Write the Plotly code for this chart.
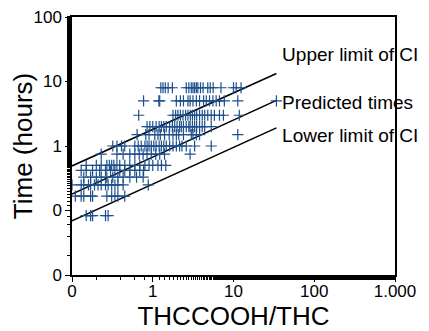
import plotly.graph_objects as go

# Observed times (hours) and THCCOOH/THC ratios per time row
times = [8, 5, 3, 2, 1.5, 1, 0.75, 0.5, 0.42, 0.33, 0.25, 0.167, 0.083]
ratios_8 = [1.26, 1.34, 1.43, 1.55, 1.75, 2.6, 2.8, 3.0, 3.15, 3.3, 3.47, 3.62, 3.9, 4.2, 4.8, 5.15, 5.6, 7.0, 10.0, 10.8, 12.4]
ratios_5 = [0.77, 1.19, 1.22, 1.96, 2.2, 2.4, 2.73, 2.9, 3.15, 3.47, 3.8, 4.26, 4.6, 5.05, 5.56, 6.1, 6.7, 7.7, 11.3, 34]
ratios_3 = [0.67, 1.78, 1.92, 2.05, 2.2, 2.37, 2.55, 2.73, 2.92, 3.1, 3.3, 3.5, 3.8, 4.1, 4.4, 4.8, 5.3, 5.8, 6.7, 7.5, 11.8]
ratios_2 = [0.85, 0.92, 1.0, 1.1, 1.2, 1.28, 1.37, 1.47, 1.62, 1.75, 1.87, 2.0, 2.15, 2.26, 2.4, 2.6, 2.8, 2.9, 3.1, 3.3, 3.5, 3.8, 4.1, 4.4, 5.3]
ratios_1_5 = [0.64, 0.82, 0.9, 1.06, 1.16, 1.24, 1.4, 1.6, 1.78, 1.96, 2.1, 2.4, 3.0, 3.15, 3.47, 3.8, 11.3]
ratios_1 = [0.32, 0.36, 0.41, 0.45, 0.6, 0.66, 0.72, 0.8, 0.85, 0.9, 0.96, 1.03, 1.1, 1.2, 1.28, 1.37, 1.47, 1.62, 1.78, 1.96, 2.15, 2.3, 2.6, 3.3, 5.3]
ratios_0_75 = [0.23, 0.36, 0.43, 0.52, 0.6, 0.68, 0.76, 0.85, 0.96, 1.09, 1.22, 1.4, 2.9]
ratios_0_5 = [0.15, 0.2, 0.23, 0.27, 0.29, 0.31, 0.33, 0.36, 0.39, 0.45, 0.52, 0.6, 0.69, 0.8, 0.9, 1.0, 1.16, 1.28, 1.45]
ratios_0_42 = [0.13, 0.15, 0.18, 0.22, 0.26, 0.3, 0.34, 0.39, 0.45, 0.52, 0.6, 0.69, 0.77]
ratios_0_33 = [0.14, 0.17, 0.2, 0.23, 0.27, 0.32, 0.37, 0.43, 0.52, 0.63, 0.76]
ratios_0_25 = [0.1, 0.13, 0.14, 0.16, 0.17, 0.19, 0.21, 0.23, 0.26, 0.28, 0.31, 0.34, 0.37, 0.43, 0.88]
ratios_0_167 = [0.11, 0.13, 0.14, 0.17, 0.18, 0.27, 0.31, 0.34, 0.37, 0.45]
ratios_0_083 = [0.15, 0.17, 0.18, 0.26, 0.28]
ratio_rows = [ratios_8, ratios_5, ratios_3, ratios_2, ratios_1_5, ratios_1, ratios_0_75,
              ratios_0_5, ratios_0_42, ratios_0_33, ratios_0_25, ratios_0_167, ratios_0_083]

# Regression line and confidence limits
line_x = [0.1, 34]
predicted = [0.18, 5.1]
upper_ci = [0.49, 13.3]
lower_ci = [0.069, 1.91]

# Labels
label_text = ["Upper limit of CI", "Predicted times", "Lower limit of CI"]
label_x = [40, 40, 40]
label_y = [24.8, 4.45, 1.38]

x_tickvals = [0.1, 1, 10, 100, 1000]
x_ticktext = ["0", "1", "10", "100", "1.000"]
y_tickvals = [0.01, 0.1, 1, 10, 100]
y_ticktext = ["0", "0", "1", "10", "100"]

pts_x, pts_y = [], []
for t, row in zip(times, ratio_rows):
    pts_x.extend(row)
    pts_y.extend([t] * len(row))

FONT = "Liberation Sans, Arial, sans-serif"
fig = go.Figure()
for ys in (upper_ci, predicted, lower_ci):
    fig.add_trace(go.Scatter(x=line_x, y=ys, mode="lines",
                             line=dict(color="black", width=1.6), showlegend=False,
                             hoverinfo="skip"))
fig.add_trace(go.Scatter(x=pts_x, y=pts_y, mode="markers",
                         marker=dict(symbol="cross-thin", size=8,
                                     line=dict(color="#1d4f8c", width=1.2)),
                         showlegend=False))
fig.add_trace(go.Scatter(x=label_x, y=label_y, mode="text", text=label_text,
                         textposition="middle right", cliponaxis=False,
                         textfont=dict(family=FONT, size=19, color="black"),
                         showlegend=False))

axis_common = dict(type="log", showgrid=False, zeroline=False, showline=True,
                   linecolor="black", linewidth=1.5, mirror=True,
                   ticks="outside", ticklen=5, tickwidth=1, tickcolor="black",
                   layer="above traces", automargin=False, ticklabeloverflow="allow",
                   minor=dict(ticks="outside", ticklen=3, tickcolor="black", tickwidth=1, showgrid=False),
                   tickfont=dict(family=FONT, size=17, color="black"))

fig.update_xaxes(range=[-1, 3], tickvals=x_tickvals, ticktext=x_ticktext, ticklabelstandoff=-5,
                 title=dict(text="THCCOOH/THC", font=dict(family=FONT, size=26, color="black")),
                 **axis_common)
fig.update_yaxes(range=[-2, 2], tickvals=y_tickvals, ticktext=y_ticktext,
                 title=dict(text="Time (hours)", font=dict(family=FONT, size=26, color="black")),
                 **axis_common)

# page body adds an 8px offset; size the figure so the plot area lands where the reference has it
fig.update_layout(width=421, height=323, margin=dict(l=64, r=34, t=9, b=56),
                  paper_bgcolor="white", plot_bgcolor="white")
fig.write_html("out.html")
